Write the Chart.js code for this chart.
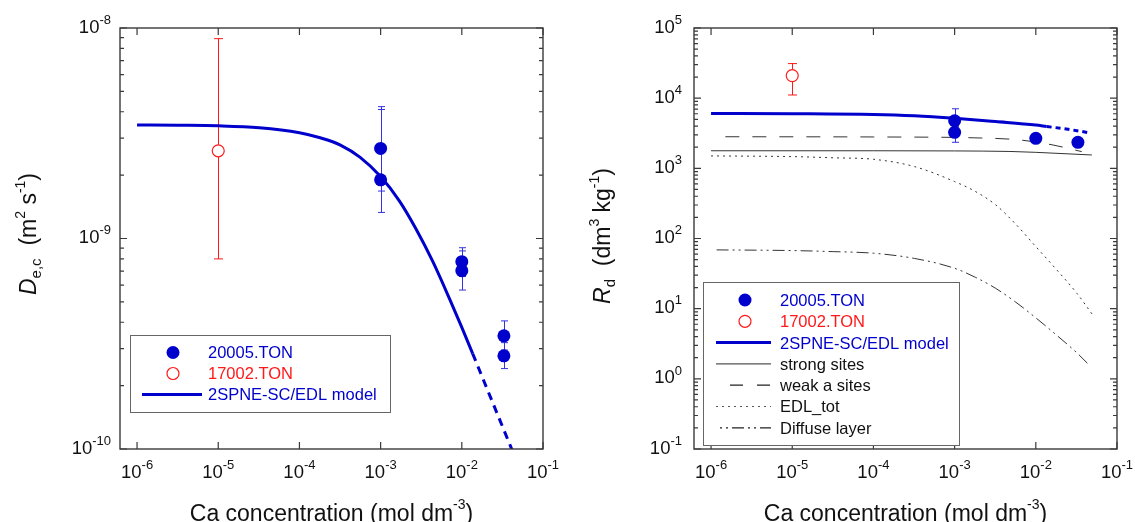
<!DOCTYPE html>
<html>
<head>
<meta charset="utf-8">
<script src="https://cdn.jsdelivr.net/npm/chart.js@4.4.1/dist/chart.umd.min.js"></script>
<style>
  html, body { margin: 0; padding: 0; background: #fff; }
  #wrap { position: relative; width: 1135px; height: 522px; overflow: hidden; background: #fff; }
  canvas { position: absolute; top: 0; }
  #c1 { left: 0; }
  #c2 { left: 567px; }
</style>
</head>
<body>
<div id="wrap">
  <canvas id="c1" width="567" height="522"></canvas>
  <canvas id="c2" width="568" height="522"></canvas>
</div>
<script>
// ---- tick exponents (decades) ----
const xTickExps = [-6, -5, -4, -3, -2, -1];
const deTickExps = [-10, -9, -8];
const rdTickExps = [-1, 0, 1, 2, 3, 4, 5];

// ---- left panel: effective diffusivity De,c (m2 s-1) ----
const deCa20005   = [1e-3, 1e-3, 1e-2, 1e-2, 0.033, 0.033];
const deVal20005  = [2.68e-9, 1.90e-9, 7.76e-10, 7.03e-10, 3.45e-10, 2.77e-10];
const deLow20005  = [1.68e-9, 1.33e-9, 6.6e-10, 5.69e-10, 2.95e-10, 2.41e-10];
const deHigh20005 = [4.10e-9, 4.23e-9, 9.04e-10, 8.73e-10, 4.06e-10, 3.20e-10];

const deCa17002   = [1e-5];
const deVal17002  = [2.61e-9];
const deLow17002  = [8.0e-10];
const deHigh17002 = [8.9e-9];

const deModelCa  = [1e-6, 3.2e-6, 1e-5, 3.2e-5, 1e-4, 1.8e-4, 3.2e-4, 5.6e-4, 1e-3, 1.7e-3, 2.73e-3, 4.37e-3, 7.0e-3, 1e-2, 1.36e-2, 2.3e-2, 4.2e-2];
const deModelVal = [3.46e-9, 3.45e-9, 3.43e-9, 3.36e-9, 3.18e-9, 3.01e-9, 2.78e-9, 2.43e-9, 1.97e-9, 1.51e-9, 1.11e-9, 7.80e-10, 5.21e-10, 3.78e-10, 2.84e-10, 1.73e-10, 9.8e-11];
const deModelSolidEnd = 14;   // index where the extrapolated (dashed) part begins

// ---- right panel: distribution ratio Rd (dm3 kg-1) ----
const rdCa20005   = [1e-3, 1e-3, 1e-2, 0.033];
const rdVal20005  = [4.77e3, 3.26e3, 2.68e3, 2.35e3];
const rdLow20005  = [3.9e3, 2.35e3, null, null];
const rdHigh20005 = [7.06e3, 4.0e3, null, null];

const rdCa17002   = [1e-5];
const rdVal17002  = [2.1e4];
const rdLow17002  = [1.11e4];
const rdHigh17002 = [3.11e4];

const rdModelCa  = [1e-6, 1e-5, 1e-4, 3.2e-4, 1e-3, 3.2e-3, 1e-2, 1.36e-2, 2.5e-2, 4.43e-2];
const rdModelVal = [6.05e3, 6.0e3, 5.85e3, 5.6e3, 5.17e3, 4.65e3, 4.15e3, 3.95e3, 3.6e3, 3.23e3];
const rdModelSolidEnd = 7;

const strongCa  = [1e-6, 1e-4, 1e-3, 4.8e-3, 1e-2, 0.049];
const strongVal = [1.78e3, 1.78e3, 1.77e3, 1.74e3, 1.69e3, 1.55e3];

const weakCa  = [1.5e-6, 1e-4, 1e-3, 1.4e-3, 6.3e-3, 1.63e-2, 0.0368];
const weakVal = [2.82e3, 2.80e3, 2.76e3, 2.74e3, 2.54e3, 2.15e3, 1.73e3];

const edlCa  = [1e-6, 1e-5, 3.2e-5, 1e-4, 3.2e-4, 1e-3, 1.8e-3, 3.2e-3, 5.6e-3, 1e-2, 1.8e-2, 3.2e-2, 5.0e-2];
const edlVal = [1503, 1469, 1413, 1346, 1059, 647, 468, 302, 162, 76.7, 36, 16.6, 8.2];

const diffCa  = [1.17e-6, 1e-5, 3.2e-5, 1e-4, 3.2e-4, 1e-3, 1.8e-3, 3.2e-3, 5.6e-3, 1e-2, 1.8e-2, 3.2e-2, 4.6e-2];
const diffVal = [68.8, 67.3, 65, 61.7, 52, 37.6, 28, 19.5, 12.5, 7.4, 4.2, 2.35, 1.55];

// ---- styling ----
const FONT = '"Liberation Sans", Arial, Helvetica, sans-serif';
const BLUE = 'rgb(0,0,205)';
const BLUE_ERR = 'rgb(50,50,225)';
const RED = 'rgb(255,25,25)';
const INK = '#111';
const FRAME = '#3a3a3a';
const THIN = '#333';

const X_MIN = Math.pow(10, -6.21);
const X_MAX = 0.1;

function pairs(xs, ys) { return xs.map((x, i) => ({ x: x, y: ys[i] })); }

function drawRich(ctx, parts, x, y, align) {
  let w = 0;
  const widths = parts.map(p => {
    ctx.font = (p.italic ? 'italic ' : '') + p.size + 'px ' + FONT;
    const m = ctx.measureText(p.t).width;
    w += m;
    return m;
  });
  let cx = align === 'center' ? x - w / 2 : (align === 'right' ? x - w : x);
  ctx.textAlign = 'left';
  ctx.textBaseline = 'alphabetic';
  parts.forEach((p, i) => {
    ctx.font = (p.italic ? 'italic ' : '') + p.size + 'px ' + FONT;
    ctx.fillText(p.t, cx, y + (p.dy || 0));
    cx += widths[i];
  });
}

function powParts(e) {
  return [{ t: '10', size: 18.5 }, { t: String(e), size: 13, dy: -8.7 }];
}

function drawErrorBars(chart, xs, lows, highs, color, capHalf) {
  const { ctx } = chart;
  const xs_ = chart.scales.x, ys_ = chart.scales.y;
  ctx.save();
  ctx.strokeStyle = color;
  ctx.lineWidth = 1;
  xs.forEach((cx, i) => {
    const lo = lows[i], hi = highs[i];
    if (lo == null || hi == null) return;
    const px = Math.round(xs_.getPixelForValue(cx)) + 0.5;
    const y1 = ys_.getPixelForValue(lo), y2 = ys_.getPixelForValue(hi);
    ctx.beginPath();
    ctx.moveTo(px, y1); ctx.lineTo(px, y2);
    ctx.moveTo(px - capHalf, y1); ctx.lineTo(px + capHalf, y1);
    ctx.moveTo(px - capHalf, y2); ctx.lineTo(px + capHalf, y2);
    ctx.stroke();
  });
  ctx.restore();
}

function drawLegend(ctx, box, rows) {
  ctx.save();
  ctx.fillStyle = '#fff';
  ctx.fillRect(box.x, box.y, box.w, box.h);
  ctx.strokeStyle = '#666';
  ctx.lineWidth = 1;
  ctx.strokeRect(box.x + 0.5, box.y + 0.5, box.w, box.h);
  rows.forEach((r, i) => {
    const cy = box.rowY + i * box.rowStep;
    if (r.kind === 'dot') {
      ctx.fillStyle = r.color;
      ctx.beginPath(); ctx.arc(box.markX, cy, 6.5, 0, Math.PI * 2); ctx.fill();
    } else if (r.kind === 'ring') {
      ctx.strokeStyle = r.color; ctx.lineWidth = 1.2;
      ctx.beginPath(); ctx.arc(box.markX, cy, 6, 0, Math.PI * 2); ctx.stroke();
    } else {
      ctx.strokeStyle = r.color; ctx.lineWidth = r.width;
      ctx.setLineDash(r.dash || []);
      ctx.lineDashOffset = r.dashOffset || 0;
      ctx.beginPath();
      ctx.moveTo(r.x0 !== undefined ? r.x0 : box.lineX0, cy);
      ctx.lineTo(box.lineX1, cy);
      ctx.stroke();
      ctx.setLineDash([]);
      ctx.lineDashOffset = 0;
    }
    ctx.fillStyle = r.textColor;
    ctx.font = '16.5px ' + FONT;
    ctx.textAlign = 'left';
    ctx.textBaseline = 'alphabetic';
    ctx.fillText(r.label, box.textX, cy + 5.9);
  });
  ctx.restore();
}

function decorPlugin(cfg) {
  return {
    id: 'decor',
    beforeDatasetsDraw(chart) {
      cfg.errorBars.forEach(eb => drawErrorBars(chart, eb.xs, eb.lows, eb.highs, eb.color, eb.cap));
    },
    afterDraw(chart) {
      const { ctx, chartArea: a } = chart;
      const xs = chart.scales.x, ys = chart.scales.y;
      ctx.save();
      // frame
      ctx.strokeStyle = FRAME;
      ctx.lineWidth = 1.4;
      ctx.strokeRect(a.left, a.top, a.right - a.left, a.bottom - a.top);
      ctx.lineWidth = 1.2;
      ctx.beginPath();
      // x ticks (decades), bottom and top, pointing inward
      xTickExps.forEach(e => {
        const px = xs.getPixelForValue(Math.pow(10, e));
        ctx.moveTo(px, a.bottom); ctx.lineTo(px, a.bottom - 7);
        ctx.moveTo(px, a.top); ctx.lineTo(px, a.top + 7);
      });
      // y ticks: decades plus 2..9 minors, both sides
      const ye = cfg.yTickExps;
      for (let k = 0; k < ye.length; k++) {
        const e = ye[k];
        const py = ys.getPixelForValue(Math.pow(10, e));
        ctx.moveTo(a.left, py); ctx.lineTo(a.left + 7, py);
        ctx.moveTo(a.right, py); ctx.lineTo(a.right - 7, py);
        if (k < ye.length - 1) {
          for (let m = 2; m <= 9; m++) {
            const pm = ys.getPixelForValue(m * Math.pow(10, e));
            ctx.moveTo(a.left, pm); ctx.lineTo(a.left + 4, pm);
            ctx.moveTo(a.right, pm); ctx.lineTo(a.right - 4, pm);
          }
        }
      }
      ctx.stroke();

      // tick labels
      ctx.fillStyle = INK;
      xTickExps.forEach(e => {
        const px = xs.getPixelForValue(Math.pow(10, e));
        drawRich(ctx, powParts(e), px, a.bottom + 29, 'center');
      });
      ye.forEach(e => {
        const py = ys.getPixelForValue(Math.pow(10, e));
        drawRich(ctx, powParts(e), a.left - cfg.yLabelGap, py + 4.5, 'right');
      });

      // axis titles
      drawRich(ctx, cfg.xTitle, (a.left + a.right) / 2, a.bottom + 72, 'center');
      ctx.save();
      ctx.translate(a.left - 84, cfg.yTitleCenter);
      ctx.rotate(-Math.PI / 2);
      drawRich(ctx, cfg.yTitle, 0, 0, 'center');
      ctx.restore();

      // legend
      drawLegend(ctx, cfg.legendBox, cfg.legendRows);
      ctx.restore();
    }
  };
}

function baseOptions(padding, yMin, yMax) {
  return {
    responsive: false,
    animation: false,
    events: [],
    layout: { padding: padding },
    plugins: { legend: { display: false }, tooltip: { enabled: false } },
    scales: {
      x: { type: 'logarithmic', min: X_MIN, max: X_MAX, display: false },
      y: { type: 'logarithmic', min: yMin, max: yMax, display: false }
    }
  };
}

const xTitle = [
  { t: 'Ca concentration (mol dm', size: 23 },
  { t: '-3', size: 14, dy: -12 },
  { t: ')', size: 23 }
];

// ---- left chart ----
new Chart(document.getElementById('c1'), {
  type: 'scatter',
  data: {
    datasets: [
      { label: '20005.TON', data: pairs(deCa20005, deVal20005), pointRadius: 6.5,
        pointBackgroundColor: BLUE, pointBorderColor: BLUE, pointBorderWidth: 0, showLine: false },
      { label: '17002.TON', data: pairs(deCa17002, deVal17002), pointRadius: 6,
        pointBackgroundColor: '#fff', pointBorderColor: RED, pointBorderWidth: 1.2, showLine: false },
      { label: '2SPNE-SC/EDL model', type: 'line', data: pairs(deModelCa, deModelVal),
        borderColor: BLUE, borderWidth: 3, pointRadius: 0, fill: false,
        cubicInterpolationMode: 'monotone',
        segment: { borderDash: c => c.p0DataIndex >= deModelSolidEnd ? [8, 6] : undefined } }
    ]
  },
  options: baseOptions({ left: 120, right: 24, top: 28, bottom: 73 }, 1e-10, 1e-8),
  plugins: [decorPlugin({
    yTickExps: deTickExps,
    yLabelGap: 9,
    yTitleCenter: 234,
    xTitle: xTitle,
    yTitle: [
      { t: 'D', size: 23, italic: true },
      { t: 'e,c', size: 15, dy: 5 },
      { t: '  (m', size: 23 },
      { t: '2', size: 14, dy: -11 },
      { t: ' s', size: 23 },
      { t: '-1', size: 14, dy: -11 },
      { t: ')', size: 23 }
    ],
    errorBars: [
      { xs: deCa20005, lows: deLow20005, highs: deHigh20005, color: BLUE_ERR, cap: 3.5 },
      { xs: deCa17002, lows: deLow17002, highs: deHigh17002, color: RED, cap: 4.5 }
    ],
    legendBox: { x: 130, y: 335, w: 260, h: 77, rowY: 352.5, rowStep: 21, markX: 173, lineX0: 142, lineX1: 202, textX: 208 },
    legendRows: [
      { kind: 'dot', color: BLUE, label: '20005.TON', textColor: BLUE },
      { kind: 'ring', color: RED, label: '17002.TON', textColor: RED },
      { kind: 'line', color: BLUE, width: 3, label: '2SPNE-SC/EDL model', textColor: BLUE }
    ]
  })]
});

// ---- right chart ----
new Chart(document.getElementById('c2'), {
  type: 'scatter',
  data: {
    datasets: [
      { label: '20005.TON', data: pairs(rdCa20005, rdVal20005), pointRadius: 6.5,
        pointBackgroundColor: BLUE, pointBorderColor: BLUE, pointBorderWidth: 0, showLine: false },
      { label: '17002.TON', data: pairs(rdCa17002, rdVal17002), pointRadius: 6,
        pointBackgroundColor: '#fff', pointBorderColor: RED, pointBorderWidth: 1.2, showLine: false },
      { label: '2SPNE-SC/EDL model', type: 'line', data: pairs(rdModelCa, rdModelVal),
        borderColor: BLUE, borderWidth: 3, pointRadius: 0, fill: false,
        cubicInterpolationMode: 'monotone',
        segment: { borderDash: c => c.p0DataIndex >= rdModelSolidEnd ? [5, 4] : undefined } },
      { label: 'strong sites', type: 'line', data: pairs(strongCa, strongVal),
        borderColor: THIN, borderWidth: 1, pointRadius: 0, fill: false, cubicInterpolationMode: 'monotone' },
      { label: 'weak a sites', type: 'line', data: pairs(weakCa, weakVal),
        borderColor: THIN, borderWidth: 1, pointRadius: 0, fill: false, cubicInterpolationMode: 'monotone',
        borderDash: [14, 13] },
      { label: 'EDL_tot', type: 'line', data: pairs(edlCa, edlVal),
        borderColor: THIN, borderWidth: 1, pointRadius: 0, fill: false, cubicInterpolationMode: 'monotone',
        borderDash: [2, 4] },
      { label: 'Diffuse layer', type: 'line', data: pairs(diffCa, diffVal),
        borderColor: THIN, borderWidth: 1, pointRadius: 0, fill: false, cubicInterpolationMode: 'monotone',
        borderDash: [12, 4, 2, 4, 2, 4] }
    ]
  },
  options: baseOptions({ left: 127, right: 18, top: 28, bottom: 73 }, 0.1, 1e5),
  plugins: [decorPlugin({
    yTickExps: rdTickExps,
    yLabelGap: 12,
    yTitleCenter: 236,
    xTitle: xTitle,
    yTitle: [
      { t: 'R', size: 23, italic: true },
      { t: 'd', size: 15, dy: 5 },
      { t: '  (dm', size: 23 },
      { t: '3', size: 14, dy: -11 },
      { t: ' kg', size: 23 },
      { t: '-1', size: 14, dy: -11 },
      { t: ')', size: 23 }
    ],
    errorBars: [
      { xs: rdCa20005, lows: rdLow20005, highs: rdHigh20005, color: BLUE_ERR, cap: 3.5 },
      { xs: rdCa17002, lows: rdLow17002, highs: rdHigh17002, color: RED, cap: 4.5 }
    ],
    legendBox: { x: 136, y: 282, w: 256, h: 163, rowY: 300, rowStep: 21.3, markX: 178, lineX0: 149, lineX1: 204, textX: 213 },
    legendRows: [
      { kind: 'dot', color: BLUE, label: '20005.TON', textColor: BLUE },
      { kind: 'ring', color: RED, label: '17002.TON', textColor: RED },
      { kind: 'line', color: BLUE, width: 3, label: '2SPNE-SC/EDL model', textColor: BLUE },
      { kind: 'line', color: '#555', width: 1.2, label: 'strong sites', textColor: INK },
      { kind: 'line', color: '#222', width: 1.2, dash: [13, 14], x0: 163, label: 'weak a sites', textColor: INK },
      { kind: 'line', color: '#555', width: 1.2, dash: [2, 4], label: 'EDL_tot', textColor: INK },
      { kind: 'line', color: '#222', width: 1.2, dash: [12, 4, 2, 4, 2, 4], dashOffset: 16, x0: 153, label: 'Diffuse layer', textColor: INK }
    ]
  })]
});
</script>
</body>
</html>
